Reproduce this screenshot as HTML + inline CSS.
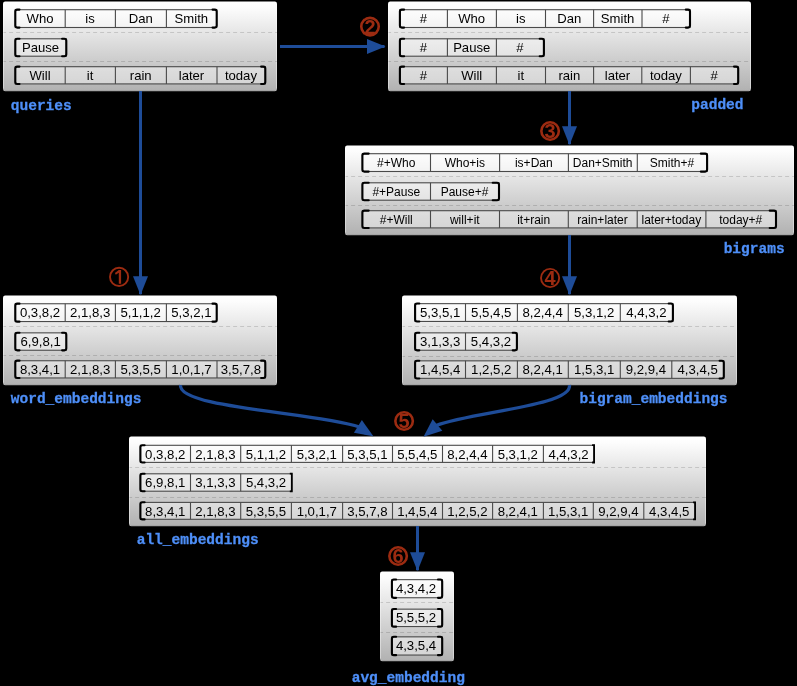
<!DOCTYPE html>
<html><head><meta charset="utf-8"><title>diagram</title>
<style>html,body{margin:0;padding:0;background:#000;}body{width:797px;height:686px;overflow:hidden;}svg{display:block;}
text{font-family:"Liberation Sans",sans-serif;}
.c{fill:#000;text-anchor:middle;}
.l{font-family:"Liberation Mono",monospace;font-weight:bold;font-size:15.1px;fill:#4e8ff8;stroke:#4e8ff8;stroke-width:0.3px;}
.n{font-family:"Liberation Sans",sans-serif;font-size:20px;font-weight:bold;fill:#9c2b11;text-anchor:middle;}
</style></head><body>
<svg width="797" height="686" viewBox="0 0 797 686">
<defs><linearGradient id="g" x1="0" y1="0" x2="0" y2="1"><stop offset="0" stop-color="#ffffff"/><stop offset="0.06" stop-color="#fdfdfd"/><stop offset="1" stop-color="#b1b1b1"/></linearGradient></defs>
<rect x="0" y="0" width="797" height="686" fill="#000"/>
<g style="will-change:transform">
<g>
<rect x="3" y="1.55" width="274" height="89.6" rx="2.2" fill="url(#g)"/>
<path d="M3.5 4.8V88.4M276.5 4.8V88.4" stroke="#fff" stroke-opacity="0.4" stroke-width="1" fill="none"/>
<path d="M5 90.9H275" stroke="#000" stroke-opacity="0.12" stroke-width="1" fill="none"/>
<line x1="3.5" y1="32.5" x2="277" y2="32.5" stroke="#000" stroke-opacity="0.14" stroke-width="1" stroke-dasharray="4 3" stroke-dashoffset="1.4"/>
<line x1="3.5" y1="61.5" x2="277" y2="61.5" stroke="#000" stroke-opacity="0.14" stroke-width="1" stroke-dasharray="4 3" stroke-dashoffset="1.4"/>
<rect x="15.30" y="9.70" width="201.40" height="17.80" fill="#fff" fill-opacity="0.42" stroke="#4a4a4a" stroke-width="1.1"/>
<path d="M65.20 9.70V27.50M115.40 9.70V27.50M166.40 9.70V27.50" stroke="#4a4a4a" stroke-width="1.1" fill="none"/>
<path d="M19.50 9.60 H17.30 Q15.30 9.60 15.30 11.60 V25.60 Q15.30 27.60 17.30 27.60 H19.50" stroke="#000" stroke-width="2.1" fill="none" stroke-linecap="round"/>
<path d="M212.50 9.60 H214.70 Q216.70 9.60 216.70 11.60 V25.60 Q216.70 27.60 214.70 27.60 H212.50" stroke="#000" stroke-width="2.1" fill="none" stroke-linecap="round"/>
<text class="c" font-size="13.1" x="40.05" y="23.00">Who</text>
<text class="c" font-size="13.1" x="90.10" y="23.00">is</text>
<text class="c" font-size="13.1" x="140.70" y="23.00">Dan</text>
<text class="c" font-size="13.1" x="191.35" y="23.00">Smith</text>
<rect x="15.30" y="38.80" width="51.00" height="17.40" fill="#fff" fill-opacity="0.42" stroke="#4a4a4a" stroke-width="1.1"/>
<path d="M19.50 38.70 H17.30 Q15.30 38.70 15.30 40.70 V54.30 Q15.30 56.30 17.30 56.30 H19.50" stroke="#000" stroke-width="2.1" fill="none" stroke-linecap="round"/>
<path d="M62.10 38.70 H64.30 Q66.30 38.70 66.30 40.70 V54.30 Q66.30 56.30 64.30 56.30 H62.10" stroke="#000" stroke-width="2.1" fill="none" stroke-linecap="round"/>
<text class="c" font-size="13.1" x="40.60" y="51.70">Pause</text>
<rect x="15.30" y="66.70" width="250.00" height="17.20" fill="#fff" fill-opacity="0.42" stroke="#4a4a4a" stroke-width="1.1"/>
<path d="M65.20 66.70V83.90M115.40 66.70V83.90M166.40 66.70V83.90M217.00 66.70V83.90" stroke="#4a4a4a" stroke-width="1.1" fill="none"/>
<path d="M19.50 66.60 H17.30 Q15.30 66.60 15.30 68.60 V82.00 Q15.30 84.00 17.30 84.00 H19.50" stroke="#000" stroke-width="2.1" fill="none" stroke-linecap="round"/>
<path d="M261.10 66.60 H263.30 Q265.30 66.60 265.30 68.60 V82.00 Q265.30 84.00 263.30 84.00 H261.10" stroke="#000" stroke-width="2.1" fill="none" stroke-linecap="round"/>
<text class="c" font-size="13.1" x="40.05" y="80.10">Will</text>
<text class="c" font-size="13.1" x="90.10" y="80.10">it</text>
<text class="c" font-size="13.1" x="140.70" y="80.10">rain</text>
<text class="c" font-size="13.1" x="191.50" y="80.10">later</text>
<text class="c" font-size="13.1" x="240.95" y="80.10">today</text>
<text class="l" text-anchor="start" transform="translate(10.8 109.5) scale(0.962 1)">queries</text>
</g>
<g>
<rect x="388" y="1.55" width="363" height="89.6" rx="2.2" fill="url(#g)"/>
<path d="M388.5 4.8V88.4M750.5 4.8V88.4" stroke="#fff" stroke-opacity="0.4" stroke-width="1" fill="none"/>
<path d="M390 90.9H749" stroke="#000" stroke-opacity="0.12" stroke-width="1" fill="none"/>
<line x1="388.5" y1="32.5" x2="751" y2="32.5" stroke="#000" stroke-opacity="0.14" stroke-width="1" stroke-dasharray="4 3" stroke-dashoffset="1.4"/>
<line x1="388.5" y1="61.5" x2="751" y2="61.5" stroke="#000" stroke-opacity="0.14" stroke-width="1" stroke-dasharray="4 3" stroke-dashoffset="1.4"/>
<rect x="399.90" y="9.70" width="290.10" height="17.80" fill="#fff" fill-opacity="0.42" stroke="#4a4a4a" stroke-width="1.1"/>
<path d="M447.40 9.70V27.50M496.40 9.70V27.50M545.50 9.70V27.50M593.60 9.70V27.50M642.00 9.70V27.50" stroke="#4a4a4a" stroke-width="1.1" fill="none"/>
<path d="M404.10 9.60 H401.90 Q399.90 9.60 399.90 11.60 V25.60 Q399.90 27.60 401.90 27.60 H404.10" stroke="#000" stroke-width="2.1" fill="none" stroke-linecap="round"/>
<path d="M685.80 9.60 H688.00 Q690.00 9.60 690.00 11.60 V25.60 Q690.00 27.60 688.00 27.60 H685.80" stroke="#000" stroke-width="2.1" fill="none" stroke-linecap="round"/>
<text class="c" font-size="13.1" x="423.45" y="23.00">#</text>
<text class="c" font-size="13.1" x="471.70" y="23.00">Who</text>
<text class="c" font-size="13.1" x="520.75" y="23.00">is</text>
<text class="c" font-size="13.1" x="569.35" y="23.00">Dan</text>
<text class="c" font-size="13.1" x="617.60" y="23.00">Smith</text>
<text class="c" font-size="13.1" x="665.80" y="23.00">#</text>
<rect x="399.90" y="38.80" width="144.00" height="17.40" fill="#fff" fill-opacity="0.42" stroke="#4a4a4a" stroke-width="1.1"/>
<path d="M447.40 38.80V56.20M496.40 38.80V56.20" stroke="#4a4a4a" stroke-width="1.1" fill="none"/>
<path d="M404.10 38.70 H401.90 Q399.90 38.70 399.90 40.70 V54.30 Q399.90 56.30 401.90 56.30 H404.10" stroke="#000" stroke-width="2.1" fill="none" stroke-linecap="round"/>
<path d="M539.70 38.70 H541.90 Q543.90 38.70 543.90 40.70 V54.30 Q543.90 56.30 541.90 56.30 H539.70" stroke="#000" stroke-width="2.1" fill="none" stroke-linecap="round"/>
<text class="c" font-size="13.1" x="423.45" y="51.70">#</text>
<text class="c" font-size="13.1" x="471.70" y="51.70">Pause</text>
<text class="c" font-size="13.1" x="519.95" y="51.70">#</text>
<rect x="399.90" y="66.70" width="338.30" height="17.20" fill="#fff" fill-opacity="0.42" stroke="#4a4a4a" stroke-width="1.1"/>
<path d="M447.40 66.70V83.90M496.40 66.70V83.90M545.50 66.70V83.90M593.60 66.70V83.90M641.80 66.70V83.90M690.40 66.70V83.90" stroke="#4a4a4a" stroke-width="1.1" fill="none"/>
<path d="M404.10 66.60 H401.90 Q399.90 66.60 399.90 68.60 V82.00 Q399.90 84.00 401.90 84.00 H404.10" stroke="#000" stroke-width="2.1" fill="none" stroke-linecap="round"/>
<path d="M734.00 66.60 H736.20 Q738.20 66.60 738.20 68.60 V82.00 Q738.20 84.00 736.20 84.00 H734.00" stroke="#000" stroke-width="2.1" fill="none" stroke-linecap="round"/>
<text class="c" font-size="13.1" x="423.45" y="80.10">#</text>
<text class="c" font-size="13.1" x="471.70" y="80.10">Will</text>
<text class="c" font-size="13.1" x="520.75" y="80.10">it</text>
<text class="c" font-size="13.1" x="569.35" y="80.10">rain</text>
<text class="c" font-size="13.1" x="617.50" y="80.10">later</text>
<text class="c" font-size="13.1" x="665.90" y="80.10">today</text>
<text class="c" font-size="13.1" x="714.10" y="80.10">#</text>
<text class="l" text-anchor="end" transform="translate(743.5 109.2) scale(0.962 1)">padded</text>
</g>
<g>
<rect x="345" y="145.55" width="449" height="89.6" rx="2.2" fill="url(#g)"/>
<path d="M345.5 148.8V232.4M793.5 148.8V232.4" stroke="#fff" stroke-opacity="0.4" stroke-width="1" fill="none"/>
<path d="M347 234.9H792" stroke="#000" stroke-opacity="0.12" stroke-width="1" fill="none"/>
<line x1="345.5" y1="176.5" x2="794" y2="176.5" stroke="#000" stroke-opacity="0.14" stroke-width="1" stroke-dasharray="4 3" stroke-dashoffset="1.4"/>
<line x1="345.5" y1="205.5" x2="794" y2="205.5" stroke="#000" stroke-opacity="0.14" stroke-width="1" stroke-dasharray="4 3" stroke-dashoffset="1.4"/>
<rect x="362.40" y="153.70" width="344.70" height="17.80" fill="#fff" fill-opacity="0.42" stroke="#4a4a4a" stroke-width="1.1"/>
<path d="M430.50 153.70V171.50M499.60 153.70V171.50M568.40 153.70V171.50M637.30 153.70V171.50" stroke="#4a4a4a" stroke-width="1.1" fill="none"/>
<path d="M368.70 153.60 H364.40 Q362.40 153.60 362.40 155.60 V169.60 Q362.40 171.60 364.40 171.60 H368.70" stroke="#000" stroke-width="2.1" fill="none" stroke-linecap="round"/>
<path d="M700.80 153.60 H705.10 Q707.10 153.60 707.10 155.60 V169.60 Q707.10 171.60 705.10 171.60 H700.80" stroke="#000" stroke-width="2.1" fill="none" stroke-linecap="round"/>
<text class="c" font-size="12" x="396.25" y="166.80">#+Who</text>
<text class="c" font-size="12" x="464.85" y="166.80">Who+is</text>
<text class="c" font-size="12" x="533.80" y="166.80">is+Dan</text>
<text class="c" font-size="12" x="602.65" y="166.80">Dan+Smith</text>
<text class="c" font-size="12" x="672.00" y="166.80">Smith+#</text>
<rect x="362.40" y="182.80" width="136.60" height="17.40" fill="#fff" fill-opacity="0.42" stroke="#4a4a4a" stroke-width="1.1"/>
<path d="M430.50 182.80V200.20" stroke="#4a4a4a" stroke-width="1.1" fill="none"/>
<path d="M368.70 182.70 H364.40 Q362.40 182.70 362.40 184.70 V198.30 Q362.40 200.30 364.40 200.30 H368.70" stroke="#000" stroke-width="2.1" fill="none" stroke-linecap="round"/>
<path d="M492.70 182.70 H497.00 Q499.00 182.70 499.00 184.70 V198.30 Q499.00 200.30 497.00 200.30 H492.70" stroke="#000" stroke-width="2.1" fill="none" stroke-linecap="round"/>
<text class="c" font-size="12" x="396.25" y="196.40">#+Pause</text>
<text class="c" font-size="12" x="464.55" y="196.40">Pause+#</text>
<rect x="362.40" y="210.70" width="413.60" height="17.20" fill="#fff" fill-opacity="0.42" stroke="#4a4a4a" stroke-width="1.1"/>
<path d="M430.50 210.70V227.90M499.50 210.70V227.90M568.30 210.70V227.90M637.20 210.70V227.90M705.90 210.70V227.90" stroke="#4a4a4a" stroke-width="1.1" fill="none"/>
<path d="M368.70 210.60 H364.40 Q362.40 210.60 362.40 212.60 V226.00 Q362.40 228.00 364.40 228.00 H368.70" stroke="#000" stroke-width="2.1" fill="none" stroke-linecap="round"/>
<path d="M769.70 210.60 H774.00 Q776.00 210.60 776.00 212.60 V226.00 Q776.00 228.00 774.00 228.00 H769.70" stroke="#000" stroke-width="2.1" fill="none" stroke-linecap="round"/>
<text class="c" font-size="12" x="396.25" y="224.00">#+Will</text>
<text class="c" font-size="12" x="464.80" y="224.00">will+it</text>
<text class="c" font-size="12" x="533.70" y="224.00">it+rain</text>
<text class="c" font-size="12" x="602.55" y="224.00">rain+later</text>
<text class="c" font-size="12" x="671.35" y="224.00">later+today</text>
<text class="c" font-size="12" x="740.75" y="224.00">today+#</text>
<text class="l" text-anchor="end" transform="translate(784.6 253.3) scale(0.962 1)">bigrams</text>
</g>
<g>
<rect x="3" y="295.6" width="274" height="89.6" rx="2.2" fill="url(#g)"/>
<path d="M3.5 298.85V382.45M276.5 298.85V382.45" stroke="#fff" stroke-opacity="0.4" stroke-width="1" fill="none"/>
<path d="M5 384.95H275" stroke="#000" stroke-opacity="0.12" stroke-width="1" fill="none"/>
<line x1="3.5" y1="326.5" x2="277" y2="326.5" stroke="#000" stroke-opacity="0.14" stroke-width="1" stroke-dasharray="4 3" stroke-dashoffset="1.4"/>
<line x1="3.5" y1="355.5" x2="277" y2="355.5" stroke="#000" stroke-opacity="0.14" stroke-width="1" stroke-dasharray="4 3" stroke-dashoffset="1.4"/>
<rect x="15.30" y="303.75" width="201.40" height="17.80" fill="#fff" fill-opacity="0.42" stroke="#4a4a4a" stroke-width="1.1"/>
<path d="M65.20 303.75V321.55M115.40 303.75V321.55M166.40 303.75V321.55" stroke="#4a4a4a" stroke-width="1.1" fill="none"/>
<path d="M19.50 303.65 H17.30 Q15.30 303.65 15.30 305.65 V319.65 Q15.30 321.65 17.30 321.65 H19.50" stroke="#000" stroke-width="2.1" fill="none" stroke-linecap="round"/>
<path d="M212.50 303.65 H214.70 Q216.70 303.65 216.70 305.65 V319.65 Q216.70 321.65 214.70 321.65 H212.50" stroke="#000" stroke-width="2.1" fill="none" stroke-linecap="round"/>
<text class="c" font-size="13.2" x="40.05" y="317.05">0,3,8,2</text>
<text class="c" font-size="13.2" x="90.10" y="317.05">2,1,8,3</text>
<text class="c" font-size="13.2" x="140.70" y="317.05">5,1,1,2</text>
<text class="c" font-size="13.2" x="191.35" y="317.05">5,3,2,1</text>
<rect x="15.30" y="332.85" width="51.00" height="17.40" fill="#fff" fill-opacity="0.42" stroke="#4a4a4a" stroke-width="1.1"/>
<path d="M19.50 332.75 H17.30 Q15.30 332.75 15.30 334.75 V348.35 Q15.30 350.35 17.30 350.35 H19.50" stroke="#000" stroke-width="2.1" fill="none" stroke-linecap="round"/>
<path d="M62.10 332.75 H64.30 Q66.30 332.75 66.30 334.75 V348.35 Q66.30 350.35 64.30 350.35 H62.10" stroke="#000" stroke-width="2.1" fill="none" stroke-linecap="round"/>
<text class="c" font-size="13.2" x="40.60" y="345.75">6,9,8,1</text>
<rect x="15.30" y="360.75" width="250.00" height="17.20" fill="#fff" fill-opacity="0.42" stroke="#4a4a4a" stroke-width="1.1"/>
<path d="M65.20 360.75V377.95M115.40 360.75V377.95M166.40 360.75V377.95M217.00 360.75V377.95" stroke="#4a4a4a" stroke-width="1.1" fill="none"/>
<path d="M19.50 360.65 H17.30 Q15.30 360.65 15.30 362.65 V376.05 Q15.30 378.05 17.30 378.05 H19.50" stroke="#000" stroke-width="2.1" fill="none" stroke-linecap="round"/>
<path d="M261.10 360.65 H263.30 Q265.30 360.65 265.30 362.65 V376.05 Q265.30 378.05 263.30 378.05 H261.10" stroke="#000" stroke-width="2.1" fill="none" stroke-linecap="round"/>
<text class="c" font-size="13.2" x="40.05" y="374.15">8,3,4,1</text>
<text class="c" font-size="13.2" x="90.10" y="374.15">2,1,8,3</text>
<text class="c" font-size="13.2" x="140.70" y="374.15">5,3,5,5</text>
<text class="c" font-size="13.2" x="191.50" y="374.15">1,0,1,7</text>
<text class="c" font-size="13.2" x="240.95" y="374.15">3,5,7,8</text>
<text class="l" text-anchor="start" transform="translate(10.8 402.6) scale(0.962 1)">word_embeddings</text>
</g>
<g>
<rect x="402" y="295.6" width="335" height="89.6" rx="2.2" fill="url(#g)"/>
<path d="M402.5 298.85V382.45M736.5 298.85V382.45" stroke="#fff" stroke-opacity="0.4" stroke-width="1" fill="none"/>
<path d="M404 384.95H735" stroke="#000" stroke-opacity="0.12" stroke-width="1" fill="none"/>
<line x1="402.5" y1="326.5" x2="737" y2="326.5" stroke="#000" stroke-opacity="0.14" stroke-width="1" stroke-dasharray="4 3" stroke-dashoffset="1.4"/>
<line x1="402.5" y1="356.5" x2="737" y2="356.5" stroke="#000" stroke-opacity="0.14" stroke-width="1" stroke-dasharray="4 3" stroke-dashoffset="1.4"/>
<rect x="415.10" y="303.65" width="257.80" height="17.80" fill="#fff" fill-opacity="0.42" stroke="#4a4a4a" stroke-width="1.1"/>
<path d="M465.50 303.65V321.45M517.40 303.65V321.45M568.30 303.65V321.45M620.30 303.65V321.45" stroke="#4a4a4a" stroke-width="1.1" fill="none"/>
<path d="M419.30 303.55 H417.10 Q415.10 303.55 415.10 305.55 V319.55 Q415.10 321.55 417.10 321.55 H419.30" stroke="#000" stroke-width="2.1" fill="none" stroke-linecap="round"/>
<path d="M668.70 303.55 H670.90 Q672.90 303.55 672.90 305.55 V319.55 Q672.90 321.55 670.90 321.55 H668.70" stroke="#000" stroke-width="2.1" fill="none" stroke-linecap="round"/>
<text class="c" font-size="13.2" x="440.10" y="317.05">5,3,5,1</text>
<text class="c" font-size="13.2" x="491.25" y="317.05">5,5,4,5</text>
<text class="c" font-size="13.2" x="542.65" y="317.05">8,2,4,4</text>
<text class="c" font-size="13.2" x="594.10" y="317.05">5,3,1,2</text>
<text class="c" font-size="13.2" x="646.40" y="317.05">4,4,3,2</text>
<rect x="415.10" y="332.85" width="101.80" height="17.40" fill="#fff" fill-opacity="0.42" stroke="#4a4a4a" stroke-width="1.1"/>
<path d="M465.50 332.85V350.25" stroke="#4a4a4a" stroke-width="1.1" fill="none"/>
<path d="M419.30 332.75 H417.10 Q415.10 332.75 415.10 334.75 V348.35 Q415.10 350.35 417.10 350.35 H419.30" stroke="#000" stroke-width="2.1" fill="none" stroke-linecap="round"/>
<path d="M512.70 332.75 H514.90 Q516.90 332.75 516.90 334.75 V348.35 Q516.90 350.35 514.90 350.35 H512.70" stroke="#000" stroke-width="2.1" fill="none" stroke-linecap="round"/>
<text class="c" font-size="13.2" x="440.10" y="345.75">3,1,3,3</text>
<text class="c" font-size="13.2" x="491.00" y="345.75">5,4,3,2</text>
<rect x="415.10" y="360.85" width="308.70" height="17.50" fill="#fff" fill-opacity="0.42" stroke="#4a4a4a" stroke-width="1.1"/>
<path d="M465.50 360.85V378.35M517.40 360.85V378.35M568.30 360.85V378.35M620.30 360.85V378.35M671.80 360.85V378.35" stroke="#4a4a4a" stroke-width="1.1" fill="none"/>
<path d="M419.30 360.75 H417.10 Q415.10 360.75 415.10 362.75 V376.45 Q415.10 378.45 417.10 378.45 H419.30" stroke="#000" stroke-width="2.1" fill="none" stroke-linecap="round"/>
<path d="M719.60 360.75 H721.80 Q723.80 360.75 723.80 362.75 V376.45 Q723.80 378.45 721.80 378.45 H719.60" stroke="#000" stroke-width="2.1" fill="none" stroke-linecap="round"/>
<text class="c" font-size="13.2" x="440.10" y="374.15">1,4,5,4</text>
<text class="c" font-size="13.2" x="491.25" y="374.15">1,2,5,2</text>
<text class="c" font-size="13.2" x="542.65" y="374.15">8,2,4,1</text>
<text class="c" font-size="13.2" x="594.10" y="374.15">1,5,3,1</text>
<text class="c" font-size="13.2" x="645.85" y="374.15">9,2,9,4</text>
<text class="c" font-size="13.2" x="697.60" y="374.15">4,3,4,5</text>
<text class="l" text-anchor="end" transform="translate(727.5 402.6) scale(0.962 1)">bigram_embeddings</text>
</g>
<g>
<rect x="129" y="436.6" width="577" height="89.6" rx="2.2" fill="url(#g)"/>
<path d="M129.5 439.85V523.45M705.5 439.85V523.45" stroke="#fff" stroke-opacity="0.4" stroke-width="1" fill="none"/>
<path d="M131 525.95H704" stroke="#000" stroke-opacity="0.12" stroke-width="1" fill="none"/>
<line x1="129.5" y1="467.5" x2="706" y2="467.5" stroke="#000" stroke-opacity="0.14" stroke-width="1" stroke-dasharray="4 3" stroke-dashoffset="1.4"/>
<line x1="129.5" y1="497.5" x2="706" y2="497.5" stroke="#000" stroke-opacity="0.14" stroke-width="1" stroke-dasharray="4 3" stroke-dashoffset="1.4"/>
<rect x="140.40" y="445.30" width="453.70" height="17.10" fill="#fff" fill-opacity="0.42" stroke="#4a4a4a" stroke-width="1.1"/>
<path d="M190.50 445.30V462.40M240.70 445.30V462.40M291.40 445.30V462.40M342.60 445.30V462.40M392.50 445.30V462.40M442.50 445.30V462.40M492.60 445.30V462.40M543.40 445.30V462.40" stroke="#4a4a4a" stroke-width="1.1" fill="none"/>
<path d="M144.60 445.20 H142.40 Q140.40 445.20 140.40 447.20 V460.50 Q140.40 462.50 142.40 462.50 H144.60" stroke="#000" stroke-width="2.1" fill="none" stroke-linecap="round"/>
<path d="M592.10 445.20 H594.10 V462.50 H592.10" stroke="#000" stroke-width="1.8" fill="none"/>
<text class="c" font-size="13.2" x="165.25" y="458.70">0,3,8,2</text>
<text class="c" font-size="13.2" x="215.40" y="458.70">2,1,8,3</text>
<text class="c" font-size="13.2" x="265.85" y="458.70">5,1,1,2</text>
<text class="c" font-size="13.2" x="316.80" y="458.70">5,3,2,1</text>
<text class="c" font-size="13.2" x="367.35" y="458.70">5,3,5,1</text>
<text class="c" font-size="13.2" x="417.30" y="458.70">5,5,4,5</text>
<text class="c" font-size="13.2" x="467.35" y="458.70">8,2,4,4</text>
<text class="c" font-size="13.2" x="517.80" y="458.70">5,3,1,2</text>
<text class="c" font-size="13.2" x="568.55" y="458.70">4,4,3,2</text>
<rect x="140.40" y="473.80" width="151.40" height="17.40" fill="#fff" fill-opacity="0.42" stroke="#4a4a4a" stroke-width="1.1"/>
<path d="M190.50 473.80V491.20M240.70 473.80V491.20" stroke="#4a4a4a" stroke-width="1.1" fill="none"/>
<path d="M144.60 473.70 H142.40 Q140.40 473.70 140.40 475.70 V489.30 Q140.40 491.30 142.40 491.30 H144.60" stroke="#000" stroke-width="2.1" fill="none" stroke-linecap="round"/>
<path d="M289.80 473.70 H291.80 V491.30 H289.80" stroke="#000" stroke-width="1.8" fill="none"/>
<text class="c" font-size="13.2" x="165.25" y="487.40">6,9,8,1</text>
<text class="c" font-size="13.2" x="215.40" y="487.40">3,1,3,3</text>
<text class="c" font-size="13.2" x="266.05" y="487.40">5,4,3,2</text>
<rect x="140.40" y="502.40" width="554.70" height="16.90" fill="#fff" fill-opacity="0.42" stroke="#4a4a4a" stroke-width="1.1"/>
<path d="M190.50 502.40V519.30M240.70 502.40V519.30M291.40 502.40V519.30M342.60 502.40V519.30M392.50 502.40V519.30M442.50 502.40V519.30M492.60 502.40V519.30M543.40 502.40V519.30M593.30 502.40V519.30M643.80 502.40V519.30" stroke="#4a4a4a" stroke-width="1.1" fill="none"/>
<path d="M144.60 502.30 H142.40 Q140.40 502.30 140.40 504.30 V517.40 Q140.40 519.40 142.40 519.40 H144.60" stroke="#000" stroke-width="2.1" fill="none" stroke-linecap="round"/>
<path d="M693.10 502.30 H695.10 V519.40 H693.10" stroke="#000" stroke-width="1.8" fill="none"/>
<text class="c" font-size="13.2" x="165.25" y="515.80">8,3,4,1</text>
<text class="c" font-size="13.2" x="215.40" y="515.80">2,1,8,3</text>
<text class="c" font-size="13.2" x="265.85" y="515.80">5,3,5,5</text>
<text class="c" font-size="13.2" x="316.80" y="515.80">1,0,1,7</text>
<text class="c" font-size="13.2" x="367.35" y="515.80">3,5,7,8</text>
<text class="c" font-size="13.2" x="417.30" y="515.80">1,4,5,4</text>
<text class="c" font-size="13.2" x="467.35" y="515.80">1,2,5,2</text>
<text class="c" font-size="13.2" x="517.80" y="515.80">8,2,4,1</text>
<text class="c" font-size="13.2" x="568.15" y="515.80">1,5,3,1</text>
<text class="c" font-size="13.2" x="618.35" y="515.80">9,2,9,4</text>
<text class="c" font-size="13.2" x="669.25" y="515.80">4,3,4,5</text>
<text class="l" text-anchor="start" transform="translate(136.7 543.6) scale(0.962 1)">all_embeddings</text>
</g>
<g>
<rect x="380" y="571.6" width="74" height="89.6" rx="2.2" fill="url(#g)"/>
<path d="M380.5 574.85V658.45M453.5 574.85V658.45" stroke="#fff" stroke-opacity="0.4" stroke-width="1" fill="none"/>
<path d="M382 660.95H452" stroke="#000" stroke-opacity="0.12" stroke-width="1" fill="none"/>
<line x1="380.5" y1="602.5" x2="454" y2="602.5" stroke="#000" stroke-opacity="0.14" stroke-width="1" stroke-dasharray="4 3" stroke-dashoffset="1.4"/>
<line x1="380.5" y1="632.5" x2="454" y2="632.5" stroke="#000" stroke-opacity="0.14" stroke-width="1" stroke-dasharray="4 3" stroke-dashoffset="1.4"/>
<rect x="391.90" y="579.65" width="50.30" height="18.10" fill="#fff" fill-opacity="0.42" stroke="#4a4a4a" stroke-width="1.1"/>
<path d="M396.10 579.55 H393.90 Q391.90 579.55 391.90 581.55 V595.85 Q391.90 597.85 393.90 597.85 H396.10" stroke="#000" stroke-width="2.1" fill="none" stroke-linecap="round"/>
<path d="M438.00 579.55 H440.20 Q442.20 579.55 442.20 581.55 V595.85 Q442.20 597.85 440.20 597.85 H438.00" stroke="#000" stroke-width="2.1" fill="none" stroke-linecap="round"/>
<text class="c" font-size="13.2" x="416.05" y="593.20">4,3,4,2</text>
<rect x="391.90" y="609.15" width="50.30" height="17.40" fill="#fff" fill-opacity="0.42" stroke="#4a4a4a" stroke-width="1.1"/>
<path d="M396.10 609.05 H393.90 Q391.90 609.05 391.90 611.05 V624.65 Q391.90 626.65 393.90 626.65 H396.10" stroke="#000" stroke-width="2.1" fill="none" stroke-linecap="round"/>
<path d="M438.00 609.05 H440.20 Q442.20 609.05 442.20 611.05 V624.65 Q442.20 626.65 440.20 626.65 H438.00" stroke="#000" stroke-width="2.1" fill="none" stroke-linecap="round"/>
<text class="c" font-size="13.2" x="416.05" y="621.85">5,5,5,2</text>
<rect x="391.90" y="636.85" width="50.30" height="18.20" fill="#fff" fill-opacity="0.42" stroke="#4a4a4a" stroke-width="1.1"/>
<path d="M396.10 636.75 H393.90 Q391.90 636.75 391.90 638.75 V653.15 Q391.90 655.15 393.90 655.15 H396.10" stroke="#000" stroke-width="2.1" fill="none" stroke-linecap="round"/>
<path d="M438.00 636.75 H440.20 Q442.20 636.75 442.20 638.75 V653.15 Q442.20 655.15 440.20 655.15 H438.00" stroke="#000" stroke-width="2.1" fill="none" stroke-linecap="round"/>
<text class="c" font-size="13.2" x="416.05" y="650.30">4,3,5,4</text>
<text class="l" text-anchor="start" transform="translate(351.7 681.6) scale(0.962 1)">avg_embedding</text>
</g>
<path d="M140.5 91V294.2" stroke="#1e4c98" stroke-width="3" fill="none"/>
<path d="M133 276.3L148 276.3L140.5 295Z" fill="#1e4c98"/>
<path d="M569.5 91V144.2" stroke="#1e4c98" stroke-width="3" fill="none"/>
<path d="M562 126.3L577 126.3L569.5 145Z" fill="#1e4c98"/>
<path d="M569.5 235V294.2" stroke="#1e4c98" stroke-width="3" fill="none"/>
<path d="M562 276.3L577 276.3L569.5 295Z" fill="#1e4c98"/>
<path d="M417.5 526V570.2" stroke="#1e4c98" stroke-width="3" fill="none"/>
<path d="M410 552.3L425 552.3L417.5 571Z" fill="#1e4c98"/>
<path d="M280 46.5H384.5" stroke="#1e4c98" stroke-width="3" fill="none"/>
<path d="M367 39L367 54L385.5 46.5Z" fill="#1e4c98"/>
<path d="M180.50 385.00C177.53 408.34 314.67 412.09 359.52 426.99" stroke="#1e4c98" stroke-width="3.3" fill="none"/>
<path d="M353.91 432.82L361.89 420.12L373.40 436.20Z" fill="#1e4c98"/>
<path d="M569.50 385.00C572.58 405.91 472.22 411.72 436.13 425.52" stroke="#1e4c98" stroke-width="3.3" fill="none"/>
<path d="M432.67 419.28L442.33 430.75L423.50 436.80Z" fill="#1e4c98"/>
<circle cx="119.1" cy="276.9" r="9.1" fill="none" stroke="#9c2b11" stroke-width="1.9"/>
<path transform="translate(119.1 276.9)" d="M-0.3 -6.9H2V6.8H-0.3V-4.2L-3.3 -2.2L-4.2 -3.9Z" fill="#9c2b11"/>
<circle cx="370" cy="26.6" r="8.75" fill="none" stroke="#9c2b11" stroke-width="2.6"/>
<text class="n" x="370" y="33.7">2</text>
<circle cx="550.1" cy="131" r="8.75" fill="none" stroke="#9c2b11" stroke-width="2.6"/>
<text class="n" x="550.1" y="138.1">3</text>
<circle cx="550.1" cy="278" r="9.1" fill="none" stroke="#9c2b11" stroke-width="1.9"/>
<text class="n" x="550.1" y="285.1">4</text>
<circle cx="404.1" cy="421" r="8.75" fill="none" stroke="#9c2b11" stroke-width="2.6"/>
<text class="n" x="404.1" y="428.1">5</text>
<circle cx="398.1" cy="556" r="8.75" fill="none" stroke="#9c2b11" stroke-width="2.6"/>
<text class="n" x="398.1" y="563.1">6</text>
</g>
</svg></body></html>
